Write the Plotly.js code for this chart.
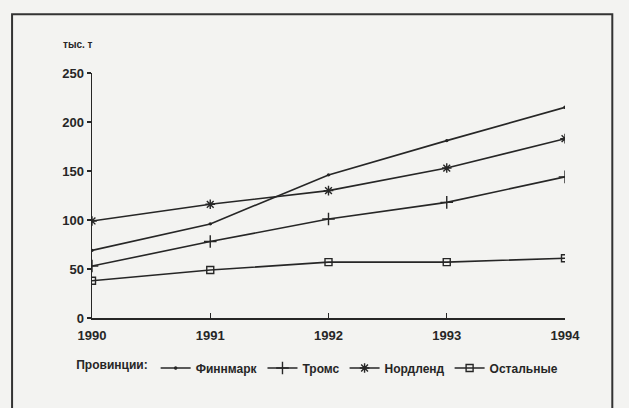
<!DOCTYPE html>
<html><head><meta charset="utf-8">
<script src="https://cdn.plot.ly/plotly-3.0.1.min.js"></script>
<style>html,body{margin:0;padding:0;background:#f3f3f1;}</style>
</head><body><div id="chart" style="width:629px;height:408px;"></div>
<script>
const years = [1990, 1991, 1992, 1993, 1994];
const finnmark = [69, 96, 146, 181, 215];
const troms = [53, 78, 101, 118, 144];
const nordland = [99, 116, 130, 153, 183];
const others = [38, 49, 57, 57, 61];
const seriesNames = ['Финнмарк', 'Тромс', 'Нордленд', 'Остальные'];
const yTicks = [0, 50, 100, 150, 200, 250];
const ink = '#262626';
const fam = 'Liberation Sans, Arial, sans-serif';

const mk = (y, name, symbol, size) => ({
  x: years, y: y, name: name, type: 'scatter', mode: 'lines+markers',
  line: {color: ink, width: 1.6},
  marker: {symbol: symbol, size: size, color: ink, line: {color: ink, width: 1.4}}
});

const data = [
  mk(finnmark, seriesNames[0], 'circle', 2),
  mk(troms, seriesNames[1], 'cross-thin-open', 9),
  mk(nordland, seriesNames[2], 'asterisk-open', 8),
  mk(others, seriesNames[3], 'square-open', 7)
];

const layout = {
  width: 629, height: 408,
  paper_bgcolor: '#f3f3f1', plot_bgcolor: '#f3f3f1',
  margin: {l: 92, r: 64, t: 73, b: 90},
  font: {family: fam, color: ink},
  showlegend: true,
  legend: {
    orientation: 'h', x: 0.118, xanchor: 'left', y: 0.098, yanchor: 'middle',
    xref: 'container', yref: 'container',
    bgcolor: 'rgba(0,0,0,0)',
    font: {size: 12, color: ink, weight: 'bold'},
    title: {text: 'Провинции:', side: 'left', font: {size: 12, color: ink, weight: 'bold'}},
    itemwidth: 30, tracegroupgap: 0
  },
  xaxis: {
    range: [1990, 1994], tickvals: years, ticktext: years.map(String),
    showgrid: false, zeroline: false, showline: true, linecolor: ink, linewidth: 1.5,
    ticks: 'inside', ticklen: 5, tickcolor: ink, tickwidth: 1.2, ticklabelstandoff: 5,
    tickfont: {size: 13, color: ink, family: fam, weight: 'bold'}
  },
  yaxis: {
    range: [0, 250], tickvals: yTicks,
    showgrid: false, zeroline: false, showline: true, linecolor: ink, linewidth: 1.5,
    ticks: 'outside', ticklen: 4, tickcolor: ink, tickwidth: 1.2,
    tickfont: {size: 13, color: ink, family: fam, weight: 'bold'}
  },
  annotations: [{
    text: 'тыс. т', xref: 'paper', yref: 'paper', x: -0.065, y: 1.115,
    xanchor: 'left', yanchor: 'middle', showarrow: false,
    font: {size: 10, color: ink, weight: 'bold'}
  }],
  shapes: [{
    type: 'rect', xref: 'paper', yref: 'paper',
    x0: -0.169, x1: 1.1, y0: -0.5, y1: 1.24,
    line: {color: '#333', width: 2}
  }]
};

Plotly.newPlot('chart', data, layout, {displayModeBar: false, staticPlot: true});
</script></body></html>
